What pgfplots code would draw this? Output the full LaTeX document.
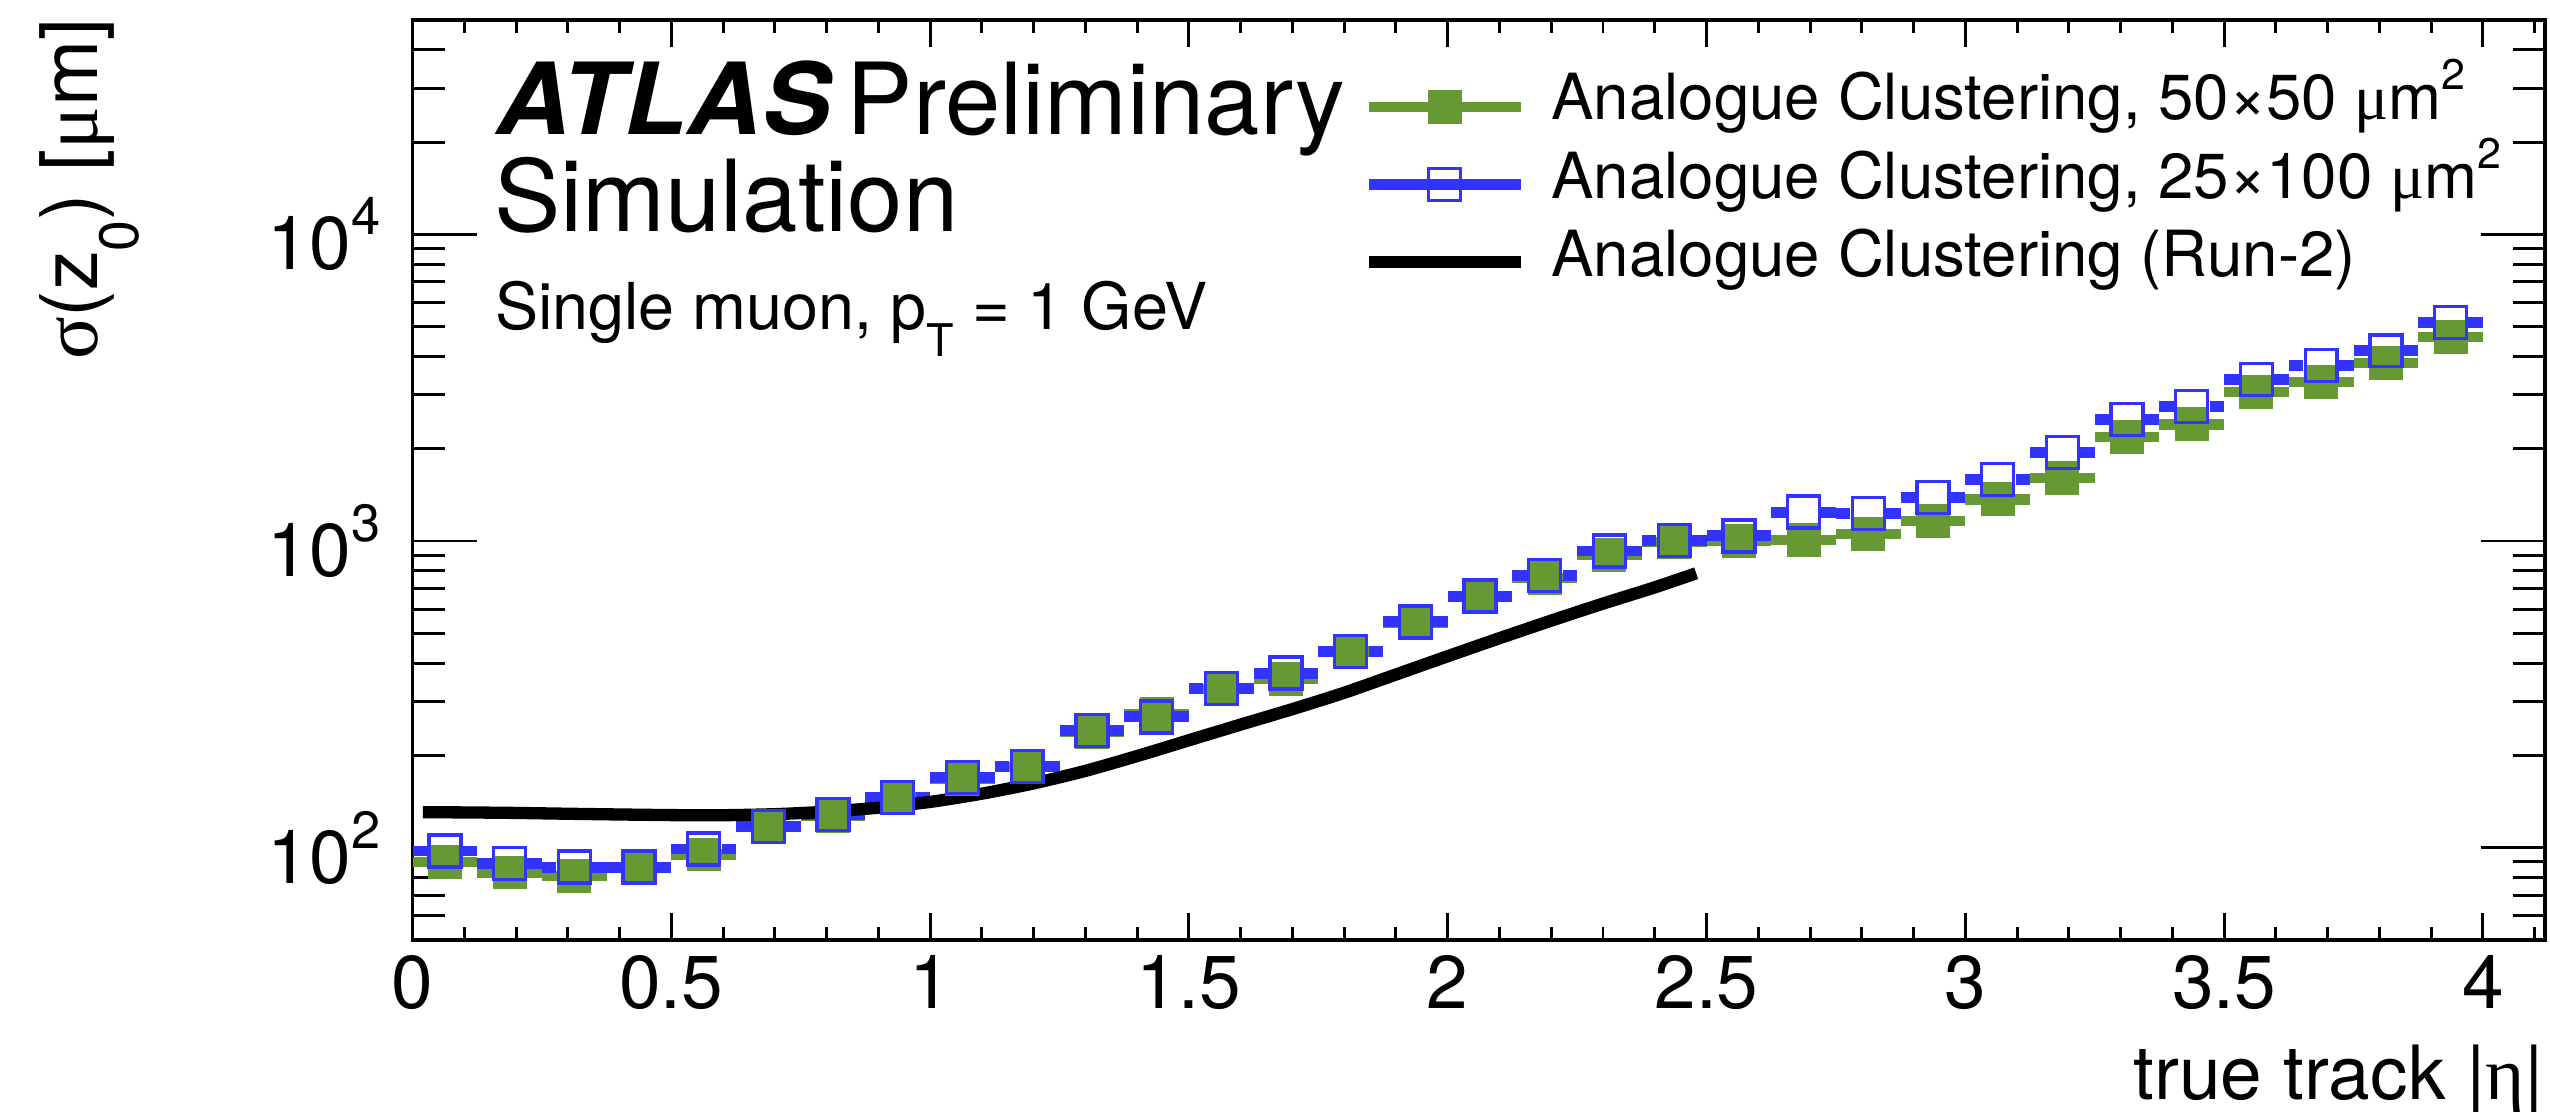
\documentclass[border=0pt]{standalone}
\usepackage{fontspec}
\setmainfont{TeX Gyre Heros}
\newfontfamily\grk{Liberation Serif}
\usepackage{pgfplots}
\usepackage{pgfplotstable}
\pgfplotsset{compat=1.18}

\definecolor{ggreen}{RGB}{102,153,51}
\definecolor{gblue}{RGB}{51,51,255}

\newcommand{\ticksz}{\fontsize{21.3}{22}\selectfont}
\newcommand{\legsz}{\fontsize{18.1}{18}\selectfont}
\newcommand{\bigsz}{\fontsize{28.3}{28}\selectfont}
\newcommand{\dec}[1]{10\raisebox{0.35cm}{\fontsize{14.9}{15}\selectfont #1}}

% sigma(z0) [um] per |eta| bin (width 0.125): g = 50x50 um^2, b = 25x100 um^2
\pgfplotstableread{
x       g      b
0.0625  90     97.5
0.1875  83     88.7
0.3125  81     86.4
0.4375  86     86.4
0.5625  95     99
0.6875  117    117.5
0.8125  127    128
0.9375  146    146
1.0625  168    169
1.1875  183    184
1.3125  238    241
1.4375  273    267
1.5625  329    330
1.6875  355    371
1.8125  436    436
1.9375  540    545
2.0625  660    661
2.1875  756    771
2.3125  900    928
2.4375  992    1005
2.5625  1000   1039
2.6875  1006   1242
2.8125  1055   1229
2.9375  1162   1389
3.0625  1366   1586
3.1875  1603   1941
3.3125  2183   2496
3.4375  2400   2750
3.5625  3063   3356
3.6875  3300   3727
3.8125  3795   4170
3.9375  4640   5165
}\resdata

% Run-2 analogue clustering reference curve
\pgfplotstableread{
x     r
0.02  130.5
0.1   130.3
0.2   129.8
0.3   129.0
0.4   128.3
0.5   127.7
0.6   127.6
0.7   128.6
0.8   131
0.9   135
1.0   141
1.1   150
1.2   162
1.3   178
1.4   199
1.5   224
1.6   252
1.7   283
1.8   320
1.9   367
2.0   421
2.1   482
2.2   550
2.3   625
2.4   706
2.48  785
}\runtwo

\begin{document}
\begin{tikzpicture}
% y axis: decades and minor ticks
\begin{axis}[
  at={(4.125cm,1.72cm)}, anchor=south west,
  scale only axis, width=21.325cm, height=9.2cm,
  xmin=0, xmax=4.12, ymode=log, ymin=50, ymax=50000,
  axis line style={line width=0.95pt},
  tick align=inside,
  tick style={line width=0.85pt, black},
  xtick=\empty,
  ytick={100,1000,10000},
  yticklabels={\dec{2},\dec{3},\dec{4}},
  minor ytick={60,70,80,90,200,300,400,500,600,700,800,900,2000,3000,4000,5000,6000,7000,8000,9000,20000,30000,40000},
  ytick pos=both,
  major tick length=0.64cm, minor tick length=0.32cm,
  yticklabel style={font=\ticksz, anchor=east, inner sep=0pt, xshift=-0.315cm},
]
\end{axis}

% x axis and the resolution curves
\begin{axis}[
  at={(4.125cm,1.72cm)}, anchor=south west,
  scale only axis, width=21.325cm, height=9.2cm,
  xmin=0, xmax=4.12, ymode=log, ymin=50, ymax=50000,
  axis line style={line width=0.95pt},
  tick align=inside,
  tick style={line width=0.85pt, black},
  ytick=\empty,
  xtick={0,0.5,1,1.5,2,2.5,3,3.5,4},
  xticklabels={0,0.5,1,1.5,2,2.5,3,3.5,4},
  minor xtick={0.1,0.2,...,4.1},
  xtick pos=both,
  major tick length=0.27cm, minor tick length=0.13cm,
  xticklabel style={font=\ticksz, anchor=north, inner sep=0pt, yshift=-0.15cm},
  legend style={
    at={(axis description cs:0.4457,0.9446)}, anchor=north west,
    draw=none, fill=none, inner sep=0pt, outer sep=0pt,
    row sep=0pt, font=\legsz,
    nodes={inner sep=0pt, outer sep=0pt, text height=0.49cm, text depth=0.295cm, anchor=base west},
    /tikz/every odd column/.append style={column sep=0.25cm},
  },
]
% 50x50: bin-width bars and filled squares
\addplot[forget plot, draw=none, mark=none,
  error bars/.cd, x dir=both, x explicit, error mark=none,
  error bar style={line width=2.9pt, draw=ggreen}]
  table[x=x, y=g, x error expr=0.0625] {\resdata};
\addplot[only marks, mark=square*, mark size=4.69pt,
  mark options={draw=ggreen, line width=0pt, fill=ggreen},
  legend image code/.code={
    \draw[ggreen, line width=2.9pt] (0cm,0.13cm) -- (1.52cm,0.13cm);
    \fill[ggreen] (0.595cm,-0.035cm) rectangle (0.925cm,0.295cm);
  }]
  table[x=x, y=g] {\resdata};
\addlegendentry{Analogue Clustering, 50{\texttimes}50 {\grk μ}m\raisebox{0.30cm}{\fontsize{12.2}{12}\selectfont 2}}

% 25x100: bars split around the open squares
\addplot[forget plot, draw=none, mark=none,
  error bars/.cd, x dir=minus, x explicit, error mark=none,
  error bar style={line width=3.1pt, draw=gblue}]
  table[x expr=\thisrow{x}-0.0345, y=b, x error expr=0.028] {\resdata};
\addplot[forget plot, draw=none, mark=none,
  error bars/.cd, x dir=plus, x explicit, error mark=none,
  error bar style={line width=3.1pt, draw=gblue}]
  table[x expr=\thisrow{x}+0.0345, y=b, x error expr=0.028] {\resdata};
\addplot[only marks, mark=square, mark size=4.55pt,
  mark options={draw=gblue, line width=0.95pt, fill=none},
  legend image code/.code={
    \draw[gblue, line width=3.1pt] (0cm,0.14cm) -- (1.52cm,0.14cm);
    \draw[gblue, line width=0.95pt] (0.60cm,-0.02cm) rectangle (0.92cm,0.30cm);
  }]
  table[x=x, y=b] {\resdata};
\addlegendentry{Analogue Clustering, 25{\texttimes}100 {\grk μ}m\raisebox{0.30cm}{\fontsize{12.2}{12}\selectfont 2}}

% Run-2 reference
\addplot[black, line width=3.5pt, mark=none, smooth, tension=0.4,
  legend image code/.code={
    \draw[black, line width=3.3pt] (0cm,0.15cm) -- (1.52cm,0.15cm);
  }]
  table[x=x, y=r] {\runtwo};
\addlegendentry{Analogue Clustering (Run-2)}
\end{axis}

% labels
\node[anchor=base west, inner sep=0pt] at (4.96,9.77) {\bigsz\bfseries\itshape\scalebox{1.035}[1]{ATLAS}};
\node[anchor=base west, inner sep=0pt] at (8.46,9.77) {\bigsz Preliminary};
\node[anchor=base west, inner sep=0pt] at (4.935,8.80) {\bigsz Simulation};
\node[anchor=base west, inner sep=0pt] at (4.945,7.82) {\fontsize{18.4}{18}\selectfont Single muon, p\raisebox{-0.27cm}{\fontsize{12.8}{12}\selectfont T} = 1 GeV};
\node[anchor=base east, inner sep=0pt] at (25.45,0.12) {\ticksz true track |{\grk η}|};
\node[rotate=90, anchor=base east, inner sep=0pt] at (0.98,10.94) {\fontsize{22.6}{23}\selectfont{\grk σ}(z\raisebox{-0.40cm}{\fontsize{15.8}{16}\selectfont 0}) [{\grk μ}m]};

\pgfresetboundingbox
\path[use as bounding box] (0,0) rectangle (25.5,11.12);
\end{tikzpicture}
\end{document}
